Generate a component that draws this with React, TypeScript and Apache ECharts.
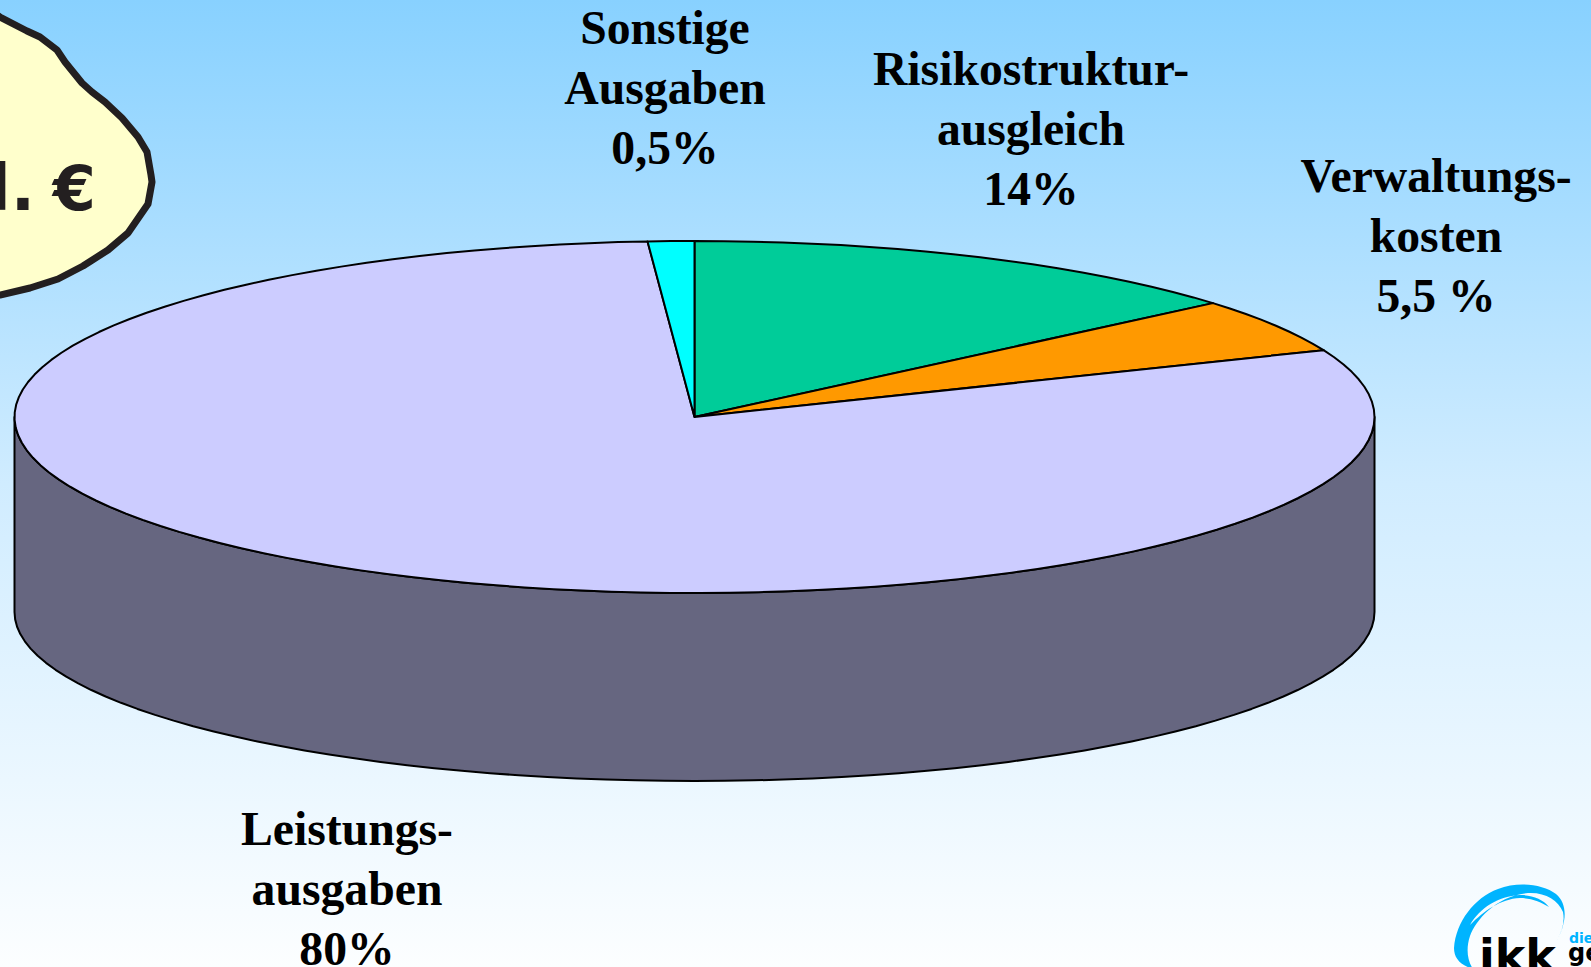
import React, { useEffect, useRef } from "react";
import * as echarts from "echarts";

const sliceNames = ["Risikostrukturausgleich", "Verwaltungskosten", "Leistungsausgaben", "Sonstige Ausgaben"];
// shares as drawn in the picture (measured from the slice angles)
const sliceShares = [13.8, 5.0, 80.1, 1.1];
const sliceColors = ["#00CC99", "#FF9900", "#CCCCFF", "#00FFFF"];
const sideColor = "#666680";

const labelTexts = [
  "Risikostruktur-\nausgleich\n14%",
  "Verwaltungs-\nkosten\n5,5 %",
  "Leistungs-\nausgaben\n80%",
  "Sonstige\nAusgaben\n0,5%",
];
const labelCentres = [
  [1031, 128],
  [1436, 235],
  [347, 888],
  [665, 87],
];

const CX = 694.5;
const CY = 417;
const RX = 680;
const RY = 176;
const BASE_CY = 612;
const BASE_RY = 169;

const blob = [
  [-12, 8], [0, 17], [27, 31], [40, 37], [57, 50], [65, 62], [82, 83], [92, 92], [105, 102],
  [122, 118], [138, 137], [147, 152], [151, 175], [152, 182], [148, 204], [128, 233],
  [108, 250], [83, 266], [58, 279], [30, 288], [0, 295], [-12, 297],
];

const swoosh =
  "M1556 942 C1566 925 1569 905 1556 894 C1543 884 1518 881 1498 889 C1474 898 1456 922 1454 948 " +
  "C1454 958 1460 965 1473 969 C1467 960 1466 948 1470 936 C1476 920 1496 896 1528 893 " +
  "C1545 892 1558 900 1563 912 C1565 922 1562 932 1556 942 Z " +
  "M1470 925 C1480 908 1498 896 1520 895 C1532 895 1543 899 1549 907 C1541 902 1531 898 1520 898 " +
  "C1500 899 1484 911 1470 925 Z";

const pt = (deg: number, cy = CY, ry = RY) => {
  const a = (deg * Math.PI) / 180;
  return [CX + RX * Math.sin(a), cy - ry * Math.cos(a)];
};

const arc = (from: number, to: number, cy = CY, ry = RY) => {
  const n = Math.max(2, Math.ceil(Math.abs(to - from) / 2.5));
  const out: number[][] = [];
  for (let i = 0; i <= n; i++) out.push(pt(from + ((to - from) * i) / n, cy, ry));
  return out;
};

export default function App() {
  const ref = useRef<HTMLDivElement>(null);
  useEffect(() => {
    document.body.style.margin = "0";
    document.body.style.overflow = "hidden";
    echarts.graphic.registerShape("ikkSwoosh", echarts.graphic.extendPath(swoosh, {}));
    const chart = echarts.init(ref.current!, null, { renderer: "svg" });
    const total = sliceShares.reduce((s, v) => s + v, 0);
    const labelStyle = {
      fontFamily: "Liberation Serif",
      fontWeight: "bold" as const,
      fontSize: 47.7,
      lineHeight: 60,
      fill: "#000",
      align: "center" as const,
      verticalAlign: "middle" as const,
    };
    const sans = { fontFamily: "DejaVu Sans", fontWeight: "bold" as const };
    chart.setOption({
      animation: false,
      backgroundColor: new echarts.graphic.LinearGradient(0, 0, 0, 1, [
        { offset: 0, color: "#88D1FF" },
        { offset: 0.5, color: "#D0ECFF" },
        { offset: 1, color: "#FCFEFF" },
      ]),
      series: [
        {
          type: "custom",
          coordinateSystem: "none",
          silent: true,
          data: [sliceShares[2]],
          z: 1,
          renderItem: () => ({
            type: "polygon",
            shape: { points: [...arc(90, 270, BASE_CY, BASE_RY), ...arc(270, 90)] },
            style: { fill: sideColor, stroke: "#000", lineWidth: 2, lineJoin: "round" },
          }),
        },
        {
          type: "custom",
          coordinateSystem: "none",
          silent: true,
          data: sliceShares,
          z: 2,
          renderItem: (params: any, api: any) => {
            const i = params.dataIndex;
            let before = 0;
            for (let k = 0; k < i; k++) before += sliceShares[k];
            const from = (before / total) * 360;
            const to = ((before + api.value(0)) / total) * 360;
            return {
              type: "polygon",
              shape: { points: [[CX, CY], ...arc(from, to)] },
              style: { fill: sliceColors[i], stroke: "#000", lineWidth: 2, lineJoin: "round" },
            };
          },
        },
      ],
      graphic: [
        {
          type: "polygon",
          z: 5,
          shape: { points: blob },
          style: { fill: "#FFFFCC", stroke: "#231F20", lineWidth: 7, lineJoin: "round" },
        },
        {
          type: "text",
          z: 6,
          x: 35,
          y: 188,
          style: { ...sans, text: "l.", fontSize: 64, fill: "#231F20", align: "right", verticalAlign: "middle" },
        },
        {
          type: "text",
          z: 6,
          x: 96,
          y: 188,
          style: { ...sans, text: "€", fontSize: 62, fill: "#231F20", align: "right", verticalAlign: "middle" },
        },
        ...labelTexts.map((text, i) => ({
          type: "text",
          z: 6,
          x: labelCentres[i][0],
          y: labelCentres[i][1],
          style: { ...labelStyle, text },
        })),
        { type: "ikkSwoosh", z: 6, x: 0, y: 0, style: { fill: "#00B4FF" } },
        {
          type: "text",
          z: 6,
          x: 1479,
          y: 933,
          style: { ...sans, text: "ikk", fontSize: 46, fill: "#000", align: "left", verticalAlign: "top" },
        },
        {
          type: "text",
          z: 6,
          x: 1569,
          y: 931,
          style: { ...sans, text: "die", fontSize: 14, fill: "#00B4FF", align: "left", verticalAlign: "top" },
        },
        {
          type: "text",
          z: 6,
          x: 1568,
          y: 941,
          style: { ...sans, text: "ge", fontSize: 24, fill: "#000", align: "left", verticalAlign: "top" },
        },
      ],
    });
    return () => chart.dispose();
  }, []);
  return <div ref={ref} style={{ width: 1591, height: 967 }} />;
}
